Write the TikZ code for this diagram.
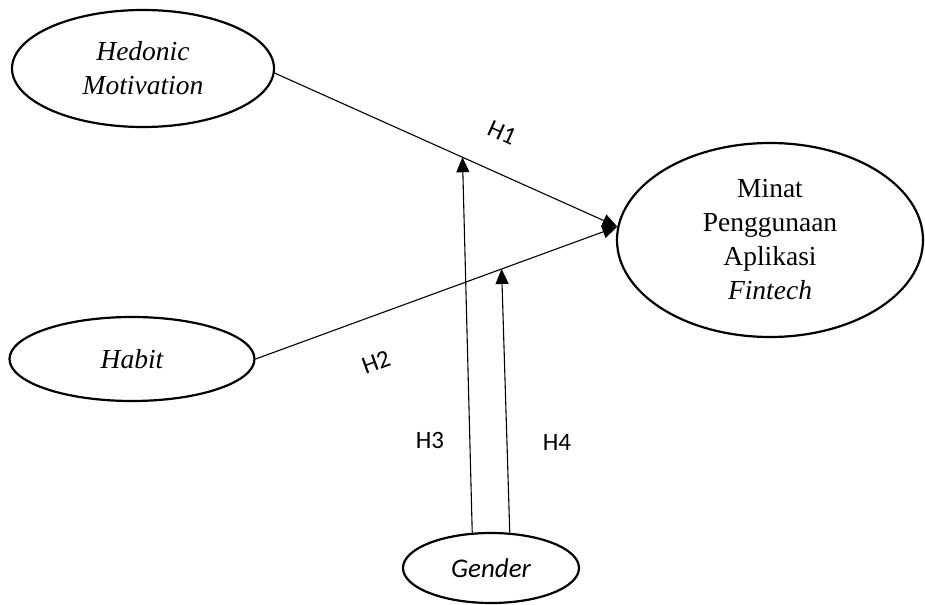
\documentclass[tikz,border=0pt]{standalone}
\usepackage{fontspec}
\setmainfont{Liberation Serif}
\newfontfamily\calibri{Carlito}
\usetikzlibrary{shapes.geometric,arrows.meta}
\begin{document}
\begin{tikzpicture}[x=1bp,y=-1bp,
  latent/.style={draw,line width=2.2bp,ellipse,inner sep=0pt,align=center,
    font=\fontsize{27.5bp}{34bp}\selectfont},
  conn/.style={line width=1.1bp},
  arr/.style={conn,-{Triangle[length=15bp,width=13bp]}},
  hlab/.style={font=\calibri\fontsize{25bp}{30bp}\selectfont}]
\useasboundingbox (0,0) rectangle (925,605);
\node[latent,minimum width=262bp,minimum height=117bp] (hed) at (143,68.5) {\itshape Hedonic\\\itshape Motivation};
\node[latent,minimum width=245bp,minimum height=84bp] (hab) at (132,359) {\itshape Habit};
\node[latent,minimum width=306bp,minimum height=194bp] (min) at (770,240) {Minat\\Penggunaan\\Aplikasi\\\itshape Fintech};
\node[latent,minimum width=176bp,minimum height=70bp,font=\calibri\fontsize{27bp}{30bp}\selectfont] (gen) at (491,568) {\itshape Gender};
\draw[arr] (hed.-2) -- coordinate[pos=0.548] (p1) (min.175.5);
\draw[arr] (hab.east) -- coordinate[pos=0.680] (p2) (min.175.5);
\draw[arr] (gen.118) -- (p1);
\draw[arr] (gen.62) -- (p2);
\node[hlab,rotate=-24] (h1) at (502,133) {H1};
\node[hlab,rotate=20] (h2) at (376,362) {H2};
\node[hlab] (h3) at (430,440) {H3};
\node[hlab] (h4) at (557,442) {H4};
\end{tikzpicture}
\end{document}
